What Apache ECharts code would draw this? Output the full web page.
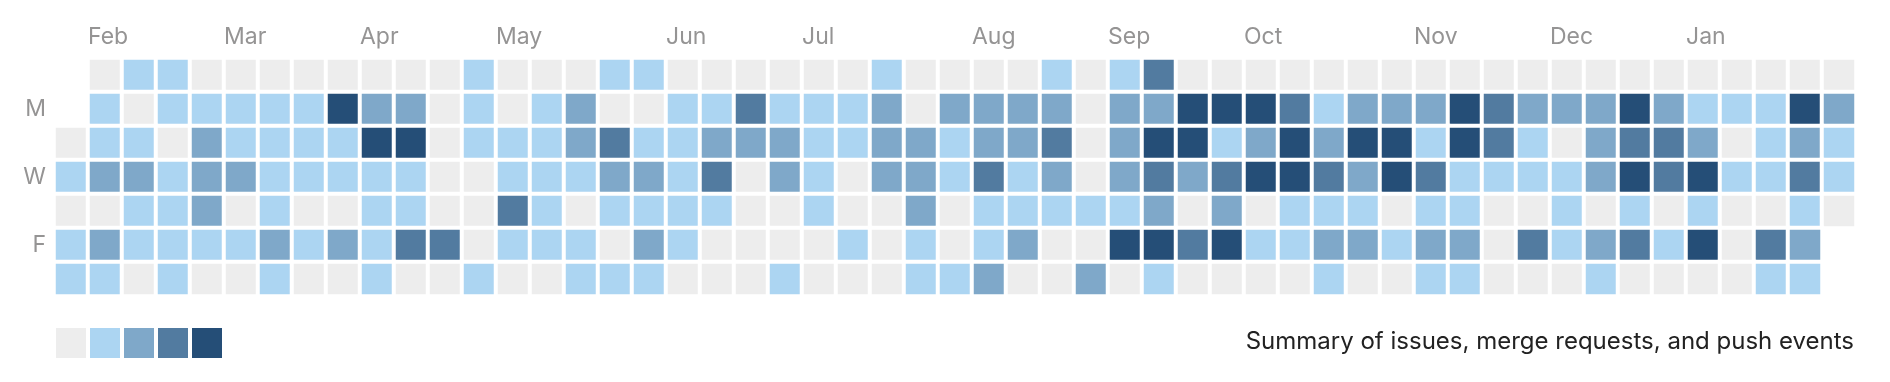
<!DOCTYPE html>
<html><head><meta charset="utf-8">
<script src="https://cdn.jsdelivr.net/npm/echarts@6/dist/echarts.min.js"></script>
<style>html,body{margin:0;padding:0;background:#fff}#c{width:1890px;height:382px}</style>
</head><body><div id="c"></div>
<script>
const dayLabels = ['', 'M', '', 'W', '', 'F', ''];
const monthNames = ['Feb','Mar','Apr','May','Jun','Jul','Aug','Sep','Oct','Nov','Dec','Jan'];
const monthStartWeeks = [1,5,9,13,18,22,27,31,35,40,44,48];
const levelColors = ['#ededed','#acd5f2','#7fa8c9','#527ba0','#254e77'];
const summaryText = 'Summary of issues, merge requests, and push events';
const N = null;
// activity level per week column (0..52), one array per weekday
const sun = [N,0,1,1,0,0,0,0,0,0, 0,0,1,0,0,0,1,1,0,0, 0,0,0,0,1,0,0,0,0,1, 0,1,3,0,0,0,0,0,0,0, 0,0,0,0,0,0,0,0,0,0, 0,0,0];
const mon = [N,1,0,1,1,1,1,1,4,2, 2,0,1,0,1,2,0,0,1,1, 3,1,1,1,2,0,2,2,2,2, 0,2,2,4,4,4,3,1,2,2, 2,4,3,2,2,2,4,2,1,1, 1,4,2];
const tue = [0,1,1,0,2,1,1,1,1,4, 4,0,1,1,1,2,3,1,1,2, 2,2,1,1,2,2,1,2,2,3, 0,2,4,4,1,2,4,2,4,4, 1,4,3,1,0,2,3,3,2,0, 1,2,1];
const wed = [1,2,2,1,2,2,1,1,1,1, 1,0,0,1,1,1,2,2,1,3, 0,2,1,0,2,2,1,3,1,2, 0,2,3,2,3,4,4,3,2,4, 3,1,1,1,1,2,4,3,4,1, 1,3,1];
const thu = [0,0,1,1,2,0,1,0,0,1, 1,0,0,3,1,0,1,1,1,1, 0,0,1,0,0,2,0,1,1,1, 1,1,2,0,2,0,1,1,1,0, 1,1,0,0,1,0,1,0,1,0, 0,1,0];
const fri = [1,2,1,1,1,1,2,1,2,1, 3,3,0,1,1,1,0,2,1,0, 0,0,0,1,0,1,0,1,2,0, 0,4,4,3,4,1,1,2,2,1, 2,2,0,3,1,2,3,1,4,0, 3,2,N];
const sat = [1,1,0,1,0,0,1,0,0,1, 0,0,1,0,0,1,1,1,0,0, 0,1,0,0,0,1,1,2,0,0, 2,0,1,0,0,0,0,1,0,0, 1,1,0,0,0,1,0,0,0,0, 1,1,N];

const rows = [sun, mon, tue, wed, thu, fri, sat];
const nWeeks = sun.length;
const weekCats = Array.from({length: nWeeks}, (_, i) => String(i));
const edgeLabels = Array.from({length: nWeeks + 1}, (_, i) => {
  const k = monthStartWeeks.indexOf(i);
  return k >= 0 ? monthNames[k] : '';
});
const data = [];
rows.forEach((row, r) => row.forEach((v, c) => { if (v !== null) data.push([c, r, v]); }));

const FONT = "Inter, 'Liberation Sans', Arial, sans-serif";
const chart = echarts.init(document.getElementById('c'), null, {renderer: 'canvas'});
chart.setOption({
  animation: false,
  backgroundColor: '#fff',
  title: {
    text: summaryText, right: 36, top: 330, padding: 0,
    textStyle: {fontFamily: FONT, fontSize: 24, fontWeight: 'normal', color: '#222'}
  },
  grid: {left: 54, top: 58, width: 34 * nWeeks, height: 34 * 7, containLabel: false},
  xAxis: [
    {type: 'category', data: weekCats, position: 'bottom', show: false},
    {type: 'category', data: edgeLabels, boundaryGap: false, position: 'top',
     axisLine: {show: false}, axisTick: {show: false}, splitLine: {show: false},
     axisLabel: {interval: 0, align: 'left', margin: 9, fontFamily: FONT, fontSize: 23, color: '#959494'}}
  ],
  yAxis: {
    type: 'category', data: dayLabels, inverse: true,
    axisLine: {show: false}, axisTick: {show: false}, splitLine: {show: false},
    axisLabel: {interval: 0, margin: 8, fontFamily: FONT, fontSize: 23, color: '#959494'}
  },
  visualMap: {
    type: 'piecewise', seriesIndex: 0, dimension: 2,
    pieces: levelColors.map((col, i) => ({value: i, color: col})),
    orient: 'horizontal', left: 56, top: 328, padding: 0,
    itemWidth: 30, itemHeight: 30, itemGap: 4, itemSymbol: 'rect',
    showLabel: false, selectedMode: false, hoverLink: false
  },
  series: [{
    type: 'heatmap', xAxisIndex: 0, yAxisIndex: 0, data: data,
    itemStyle: {borderColor: '#fff', borderWidth: 4},
    emphasis: {disabled: true}
  }]
});
</script></body></html>
